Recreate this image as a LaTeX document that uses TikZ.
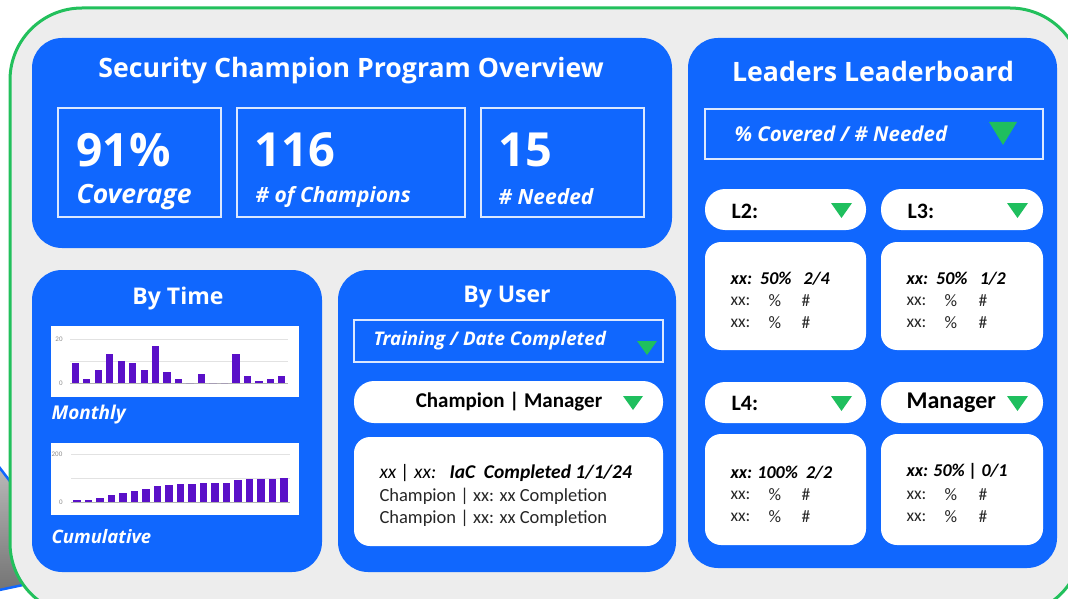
\documentclass[tikz,border=0pt]{standalone}
\usepackage{fontspec}
\setmainfont{Carlito}
\newfontfamily\osans{Open Sans}
\definecolor{panelblue}{HTML}{1067FE}
\definecolor{framegray}{HTML}{EDEDED}
\definecolor{framegreen}{HTML}{22C05C}
\definecolor{trigreen}{HTML}{1FBF5E}
\definecolor{barpurple}{HTML}{5A10C8}
\definecolor{gridgray}{HTML}{E2E2E2}
\newcommand{\fsz}[1]{\fontsize{#1}{#1}\selectfont}
\tikzset{
  panel/.style={fill=panelblue, rounded corners=30pt},
  whitecard/.style={fill=white, rounded corners=16pt},
  pill/.style={fill=white, rounded corners=20pt},
  outlinebox/.style={draw=white!85!panelblue, line width=1.3pt},
  ptitle/.style={text=white, font=\osans\bfseries\fsz{26.7}},
  subtitle/.style={text=white, font=\osans\bfseries\fsz{23}},
  bignum/.style={text=white, anchor=west, font=\osans\bfseries\fsz{46}},
  biglabel/.style={text=white, anchor=west, font=\osans\bfseries\itshape\fsz{21}},
  ddlabel/.style={text=white, anchor=west, font=\osans\bfseries\itshape\fsz{20.5}},
  pilltext/.style={text=black, anchor=west, font=\bfseries\fsz{22}},
  cardbold/.style={text=black, anchor=west, font=\bfseries\itshape\fsz{18}},
  cardreg/.style={text=black!85, anchor=west, font=\fsz{17.5}},
  axislbl/.style={text=black!45, font=\fsz{7}},
  tri/.style={fill=trigreen},
}
\begin{document}
\begin{tikzpicture}[x=1pt,y=-1pt]
\useasboundingbox (0,0) rectangle (1068,599);
% partially hidden shape behind the frame
\fill[top color=black!25, bottom color=black!55, draw=panelblue, line width=2.5pt]
  (-10,455) -- (70,560) -- (70,575) -- (-10,592) -- cycle;
% outer frame
\filldraw[fill=framegray, draw=framegreen, line width=3pt, rounded corners=72pt]
  (10,8) rectangle (1082,615);

% ---------- Panel: overview ----------
\fill[panel] (32,38) rectangle (672,248);
\node[ptitle] (ovtitle) at (351,71) {Security Champion Program Overview};
\draw[outlinebox] (58,108) rectangle (221,217);
\draw[outlinebox] (237,108) rectangle (465,217);
\draw[outlinebox] (481,108) rectangle (644,217);
\node[bignum] (n1) at (73,150) {91\%};
\node[biglabel, font=\osans\bfseries\itshape\fsz{26.5}] (l1) at (73,197) {Coverage};
\node[bignum, font=\osans\bfseries\fsz{47}] (n2) at (251,150) {116};
\node[biglabel] (l2) at (252,197) {\# of Champions};
\node[bignum, font=\osans\bfseries\fsz{47}] (n3) at (495,150) {15};
\node[biglabel] (l3) at (495,197) {\# Needed};

% ---------- Panel: leaderboard ----------
\fill[panel] (688,38) rectangle (1057,568);
\node[ptitle] (lbtitle) at (873,71) {Leaders Leaderboard};
\draw[outlinebox] (705,109) rectangle (1043,159);
\node[ddlabel] (lbdd) at (731,134) {\% Covered / \# Needed};
\fill[tri] (989,122) -- (1017,122) -- (1003,145) -- cycle;

\fill[pill] (705,189) rectangle (866,230);
\node[pilltext] (pl2) at (728,211) {L2:};
\fill[tri] (831,203) -- (852,203) -- (841.5,218) -- cycle;
\fill[pill] (881,189) rectangle (1043,230);
\node[pilltext] (pl3) at (904,211) {L3:};
\fill[tri] (1007,203) -- (1028,203) -- (1017.5,218) -- cycle;

\fill[whitecard] (705,242) rectangle (866,350);
\node[cardbold] (c1a) at (727,279) {xx:\ \ 50\%\ \ \ 2/4};
\node[cardreg] (c1b) at (727,301) {xx:};
\node[cardreg] (c1c) at (765,301) {\%};
\node[cardreg] (c1d) at (798,301) {\#};
\node[cardreg] (c1e) at (727,323) {xx:};
\node[cardreg] (c1f) at (765,323) {\%};
\node[cardreg] (c1g) at (798,323) {\#};

\fill[whitecard] (881,242) rectangle (1043,350);
\node[cardbold] (c2a) at (903,279) {xx:\ \ 50\%\ \ \ 1/2};
\node[cardreg] (c2b) at (903,301) {xx:};
\node[cardreg] (c2c) at (941,301) {\%};
\node[cardreg] (c2d) at (975,301) {\#};
\node[cardreg] (c2e) at (903,323) {xx:};
\node[cardreg] (c2f) at (941,323) {\%};
\node[cardreg] (c2g) at (975,323) {\#};

\fill[pill] (705,382) rectangle (866,423);
\node[pilltext] (pl4) at (728,403) {L4:};
\fill[tri] (831,396) -- (852,396) -- (841.5,411) -- cycle;
\fill[pill] (881,382) rectangle (1043,423);
\node[pilltext, font=\bfseries\fsz{24}] (pmg) at (903,403) {Manager};
\fill[tri] (1007,396) -- (1028,396) -- (1017.5,411) -- cycle;

\fill[whitecard] (705,434) rectangle (866,545);
\node[cardbold] (c3a) at (727,473) {xx: 100\%\ \ 2/2};
\node[cardreg] (c3b) at (727,495) {xx:};
\node[cardreg] (c3c) at (765,495) {\%};
\node[cardreg] (c3d) at (798,495) {\#};
\node[cardreg] (c3e) at (727,517) {xx:};
\node[cardreg] (c3f) at (765,517) {\%};
\node[cardreg] (c3g) at (798,517) {\#};

\fill[whitecard] (881,434) rectangle (1043,545);
\node[cardbold] (c4a) at (903,471) {xx: 50\% | 0/1};
\node[cardreg] (c4b) at (903,495) {xx:};
\node[cardreg] (c4c) at (941,495) {\%};
\node[cardreg] (c4d) at (975,495) {\#};
\node[cardreg] (c4e) at (903,517) {xx:};
\node[cardreg] (c4f) at (941,517) {\%};
\node[cardreg] (c4g) at (975,517) {\#};

% ---------- Panel: by time ----------
\fill[panel] (32,270) rectangle (322,572);
\node[subtitle] (bttitle) at (178,299) {By Time};
% monthly chart
\fill[white] (51,326) rectangle (299,397);
\draw[gridgray, line width=0.5pt] (70,339) -- (288,339) (70,361) -- (288,361);
\draw[black!30, line width=0.6pt] (70,383) -- (288,383);
\node[axislbl] (m20) at (59,339) {20};
\node[axislbl] (m0) at (61,383) {0};
\foreach \v [count=\i from 0] in {9,2,6,13,10,9,6,17,5,2,0,4,0,0,13,3,1,2,3} {
  \fill[barpurple] (71.7+\i*11.47,383) rectangle ++(7.3,-\v*2.2);
}
\node[biglabel, font=\osans\bfseries\itshape\fsz{19}] (lmon) at (48,415) {Monthly};
% cumulative chart
\fill[white] (51,443) rectangle (299,515);
\draw[gridgray, line width=0.5pt] (71,454) -- (290,454) (71,478) -- (290,478);
\draw[black!30, line width=0.6pt] (71,502) -- (290,502);
\node[axislbl] (c200) at (57,454) {200};
\node[axislbl] (c0) at (61,502) {0};
\foreach \h [count=\i from 0] in {2,2,4,7,9,10.7,12.7,16.3,17.3,18,18,19.3,19.3,19.3,22,23,23,23.3,24} {
  \fill[barpurple] (73.3+\i*11.5,502) rectangle ++(7.5,-\h);
}
\node[biglabel, font=\osans\bfseries\itshape\fsz{18.5}] (lcum) at (48,537) {Cumulative};

% ---------- Panel: by user ----------
\fill[panel] (338,270) rectangle (676,572);
\node[subtitle] (butitle) at (507,297) {By User};
\draw[outlinebox] (354,320) rectangle (663,362);
\node[ddlabel, font=\osans\bfseries\itshape\fsz{18.8}] (budd) at (370,341) {Training / Date Completed};
\fill[tri] (637,341) -- (657,341) -- (647,355) -- cycle;
\fill[pill] (354,381) rectangle (663,423);
\node[pilltext, anchor=center, font=\bfseries\fsz{21}] (pcm) at (509,402) {Champion | Manager};
\fill[tri] (623,396) -- (643,396) -- (633,410) -- cycle;
\fill[whitecard] (354,437) rectangle (663,546);
\node[cardbold, font=\bfseries\itshape\fsz{19.5}] (u1) at (376,473) {\mdseries xx | xx:\ \ \ \bfseries IaC\ \ Completed 1/1/24};
\node[cardreg, font=\fsz{18.5}] (u2) at (376,496) {Champion | xx: xx Completion};
\node[cardreg, font=\fsz{18.5}] (u3) at (376,518) {Champion | xx: xx Completion};
\end{tikzpicture}
\end{document}
